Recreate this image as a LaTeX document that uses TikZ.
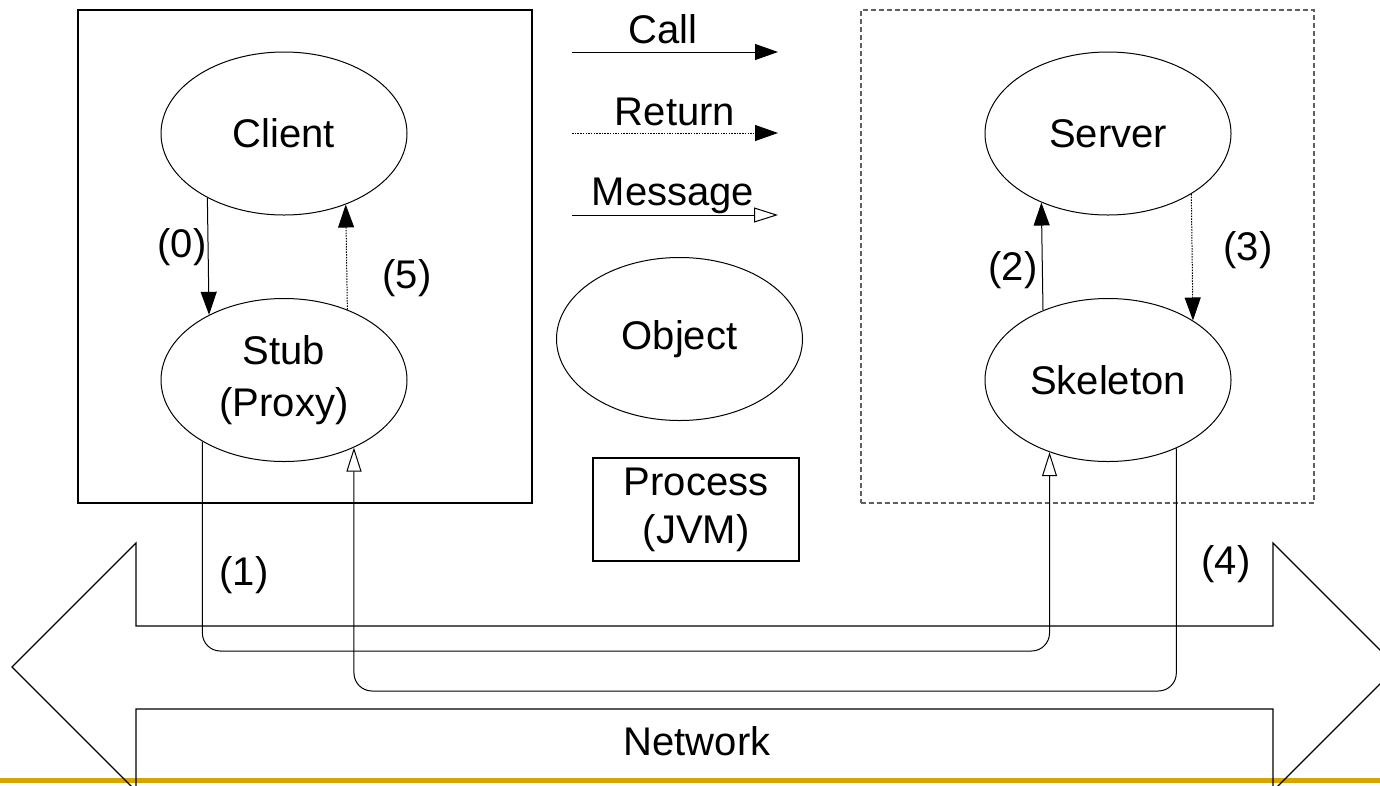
\documentclass[tikz,border=0pt]{standalone}
\usepackage{fontspec}
\setmainfont{Liberation Sans}
\usetikzlibrary{arrows.meta,shapes.geometric}
\definecolor{gold}{RGB}{214,166,0}
\definecolor{dashgray}{RGB}{95,95,95}
\begin{document}
\begin{tikzpicture}[x=1pt,y=-1pt,
  every node/.style={font=\fontsize{40}{48}\selectfont},
  obj/.style={ellipse, draw, line width=1pt, minimum width=246pt, minimum height=163pt, inner sep=0pt},
  procbox/.style={draw, line width=1.3pt, inner sep=0pt},
  calltip/.style={-{Triangle[length=23pt,width=16pt]}},
  call/.style={draw, line width=1pt, calltip},
  ret/.style={draw, line width=1pt, dash pattern=on 1.5pt off 1.2pt, calltip},
  msg/.style={draw, line width=1pt, -{Triangle[open,length=24pt,width=15pt]}},
  lbl/.style={inner sep=0pt},
]
\useasboundingbox (0,0) rectangle (1380,785);
\clip (0,0) rectangle (1380,785);

% bottom rule
\fill[gold] (0,778) rectangle (1380,783);

% process boxes
\node[procbox, minimum width=454pt, minimum height=493pt] (clientproc) at (305,256.5) {};
\node[procbox, draw=dashgray, line width=1.2pt, dash pattern=on 5pt off 3pt, minimum width=453pt, minimum height=493pt] (serverproc) at (1087.5,256.5) {};

% objects
\node[obj] (client) at (284,133.5) {Client};
\node[obj, align=center, font=\fontsize{40}{52}\selectfont] (stub) at (284,380) {Stub\\(Proxy)};
\node[obj] (server) at (1108,133.5) {Server};
\node[obj] (skel) at (1108,380) {Skeleton};
\node[obj] (object) at (679.5,339) {Object};
\node[procbox, minimum width=206pt, minimum height=103pt, align=center] (process) at (696,509.5) {Process\\(JVM)};

% legend
\coordinate (callA) at (572,52);    \coordinate (callB) at (778,52);
\coordinate (retA) at (572,133);    \coordinate (retB) at (778,133);
\coordinate (msgA) at (572,215);    \coordinate (msgB) at (778,215);
\draw[call] (callA) -- (callB);
\draw[ret] (retA) -- (retB);
\draw[msg] (msgA) -- (msgB);
\node[lbl, anchor=base] (callt) at (663,43) {Call};
\node[lbl, anchor=base] (rett) at (675,125) {Return};
\node[lbl, anchor=base] (msgt) at (673,205) {Message};

% network arrow
\draw[line width=1.2pt, line join=miter]
  (136,543) -- (12,667) -- (136,791) -- (136,709) -- (1273,709) -- (1273,791)
  -- (1397,667) -- (1273,543) -- (1273,626) -- (136,626) -- cycle;
\node (network) at (697,741) {Network};

% local calls / returns
\draw[call] (client.220.1) -- (stub.139.7);
\draw[ret] (stub.48.6) -- (client.311.4);
\draw[call] (skel.133.8) -- (server.226.2);
\draw[ret] (server.324.6) -- (skel.35.4);

% messages over the network
\coordinate (lane1) at (0,651);
\coordinate (lane2) at (0,691);
\draw[msg, rounded corners=18pt] (stub.217.3) -- (stub.217.3 |- lane1) -- (skel.231.1 |- lane1) -- (skel.231.1);
\draw[msg, rounded corners=18pt] (skel.315) -- (skel.315 |- lane2) -- (stub.316.3 |- lane2) -- (stub.316.3);

% step labels
\node[lbl] (l0) at (182,247) {(0)};
\node[lbl] (l5) at (407,278) {(5)};
\node[lbl] (l2) at (1013,270) {(2)};
\node[lbl] (l3) at (1248,250) {(3)};
\node[lbl] (l1) at (244,575) {(1)};
\node[lbl] (l4) at (1226,564) {(4)};
\end{tikzpicture}
\end{document}
